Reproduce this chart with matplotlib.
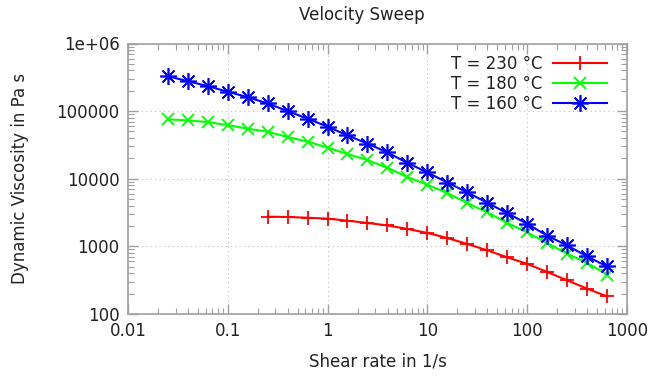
import matplotlib
matplotlib.use("Agg")
import matplotlib.pyplot as plt
from matplotlib.ticker import LogLocator, FixedLocator, FixedFormatter, NullFormatter

# shear rate (1/s)
rate = [0.0251, 0.0398, 0.0631, 0.1, 0.158, 0.251, 0.398, 0.631, 1.0, 1.58,
        2.51, 3.98, 6.31, 10.0, 15.8, 25.1, 39.8, 63.1, 100.0, 158.0, 251.0,
        398.0, 631.0]
rate_230 = rate[5:]

# dynamic viscosity (Pa s)
eta_230 = [2750, 2720, 2650, 2570, 2400, 2220, 2040, 1810, 1580, 1330,
           1085, 873, 689, 550, 419, 315, 237, 182]
eta_180 = [75500, 73000, 68800, 62200, 55000, 49600, 41400, 35400, 28900,
           23200, 18900, 14500, 10600, 8150, 6150, 4380, 3180, 2220, 1610,
           1120, 780, 570, 382]
eta_160 = [328000, 277000, 234000, 193000, 161000, 130000, 100000, 77200,
           58900, 43800, 33000, 24500, 17100, 12400, 8800, 6300, 4400, 3100,
           2160, 1440, 1035, 710, 505]

xticks = [0.01, 0.1, 1, 10, 100, 1000]
xtick_labels = ["0.01", "0.1", "1", "10", "100", "1000"]
yticks = [100, 1000, 10000, 100000, 1000000]
ytick_labels = ["100", "1000", "10000", "100000", "1e+06"]

border = "#a0a0a0"
txt = "#222222"

fig = plt.figure(figsize=(6.69, 3.78), dpi=100)
ax = fig.add_axes([128 / 669, 1 - 314 / 378, 499 / 669, 270.5 / 378])

lw = 1.5
ax.plot(rate_230, eta_230, color="#ff0000", lw=lw, marker="+", ms=10,
        mew=1.3, label="T = 230 °C")
ax.plot(rate, eta_180, color="#00ff00", lw=lw, marker="x", ms=9,
        mew=1.3, label="T = 180 °C")
ax.plot(rate, eta_160, color="#0000ff", lw=lw, marker=(8, 2, 0), ms=12,
        mew=1.2, label="T = 160 °C")

ax.set_xscale("log")
ax.set_yscale("log")
ax.set_xlim(0.01, 1000)
ax.set_ylim(100, 1e6)

ax.xaxis.set_major_locator(FixedLocator(xticks))
ax.xaxis.set_major_formatter(FixedFormatter(xtick_labels))
ax.yaxis.set_major_locator(FixedLocator(yticks))
ax.yaxis.set_major_formatter(FixedFormatter(ytick_labels))
ax.xaxis.set_minor_locator(LogLocator(base=10, subs=range(2, 10), numticks=20))
ax.yaxis.set_minor_locator(LogLocator(base=10, subs=range(2, 10), numticks=20))
ax.xaxis.set_minor_formatter(NullFormatter())
ax.yaxis.set_minor_formatter(NullFormatter())

ax.tick_params(which="both", direction="in", top=True, right=True,
               color=border, labelcolor=txt, labelsize=12)
ax.tick_params(which="major", length=7, width=1, pad=6)
ax.tick_params(which="minor", length=4, width=0.8)

for s in ax.spines.values():
    s.set_color(border)
    s.set_linewidth(1.2)

ax.grid(True, which="major", color="#c0c0c0", linestyle=(0, (1, 3)), lw=0.8)

ax.set_xlabel("Shear rate in 1/s", fontsize=12, color=txt, labelpad=9)
ax.set_ylabel("Dynamic Viscosity in Pa s", fontsize=12, color=txt, labelpad=20)
fig.text(362 / 669, 1 - 15 / 378, "Velocity Sweep", fontsize=12, color=txt,
         ha="center", va="center")

leg = ax.legend(loc="upper right", bbox_to_anchor=(1 - 8.5 / 499, 1),
                frameon=False, markerfirst=False,
                fontsize=12, handlelength=3.25, labelspacing=0.12,
                borderaxespad=0.3, handletextpad=0.6)
for t in leg.get_texts():
    t.set_color(txt)
    t.set_ha("right")

fig.savefig("out.png", dpi=100)
